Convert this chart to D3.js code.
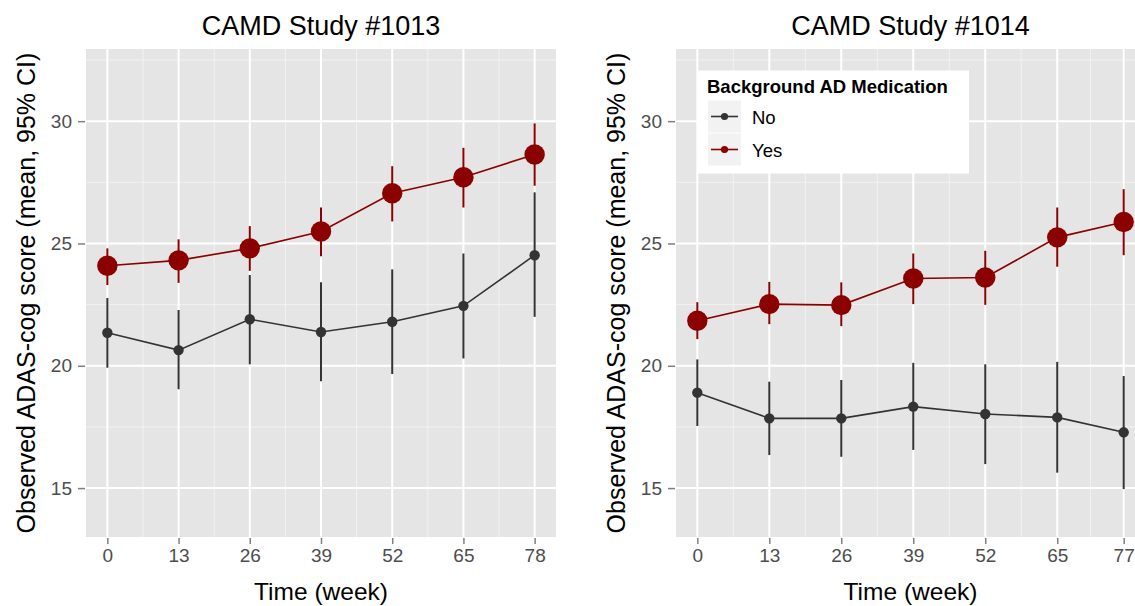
<!DOCTYPE html>
<html>
<head>
<meta charset="utf-8">
<script src="https://cdn.jsdelivr.net/npm/d3@7"></script>
<style>
  body { margin: 0; background: #fff; }
  svg { display: block; font-family: "Liberation Sans", Arial, sans-serif; }
</style>
</head>
<body>
<div id="plot"></div>
<script>
// Data
var groups = ["No", "Yes"];
var yTicks = [15, 20, 25, 30];

var weeks1013 = [0, 13, 26, 39, 52, 65, 78];
var no1013Mean = [21.35, 20.64, 21.90, 21.38, 21.80, 22.45, 24.52];
var no1013Low = [19.92, 19.04, 20.06, 19.37, 19.66, 20.30, 22.00];
var no1013High = [22.77, 22.28, 23.71, 23.41, 23.94, 24.59, 27.09];
var yes1013Mean = [24.09, 24.31, 24.80, 25.49, 27.05, 27.71, 28.64];
var yes1013Low = [23.30, 23.39, 23.88, 24.48, 25.90, 26.47, 27.36];
var yes1013High = [24.80, 25.17, 25.71, 26.47, 28.16, 28.91, 29.91];

var weeks1014 = [0, 13, 26, 39, 52, 65, 77];
var no1014Mean = [18.90, 17.85, 17.85, 18.33, 18.03, 17.89, 17.28];
var no1014Low = [17.54, 16.35, 16.28, 16.56, 15.98, 15.63, 14.96];
var no1014High = [20.26, 19.35, 19.42, 20.12, 20.06, 20.16, 19.58];
var yes1014Mean = [21.84, 22.52, 22.48, 23.57, 23.61, 25.25, 25.88];
var yes1014Low = [21.09, 21.70, 21.62, 22.52, 22.49, 24.05, 24.52];
var yes1014High = [22.60, 23.43, 23.41, 24.59, 24.70, 26.47, 27.22];

// Define SVG area dimensions
var svgWidth = 1135;
var svgHeight = 606;

var colors = { No: "#333333", Yes: "#8B0000" };
var pointRadius = { No: 5.2, Yes: 10.2 };

var svg = d3.select("#plot")
  .append("svg")
  .attr("width", svgWidth)
  .attr("height", svgHeight);

svg.append("rect")
  .attr("width", svgWidth)
  .attr("height", svgHeight)
  .attr("fill", "#ffffff");

function makeSeries(weeks, mean, low, high) {
  return weeks.map(function(w, i) {
    return { week: w, mean: mean[i], low: low[i], high: high[i] };
  });
}

function drawPanel(opts) {
  var left = opts.left, right = opts.right, top = 49, bottom = 537;
  var weeks = opts.weeks;
  var maxWeek = d3.max(weeks);
  var pad = maxWeek * 0.05;

  var x = d3.scaleLinear().domain([-pad, maxWeek + pad]).range([left, right]);
  var y = d3.scaleLinear().domain([13.0, 32.95]).range([bottom, top]);

  var g = svg.append("g");

  // panel background
  g.append("rect")
    .attr("x", left)
    .attr("y", top)
    .attr("width", right - left)
    .attr("height", bottom - top)
    .attr("fill", "#E5E5E5");

  // minor grid lines (midpoints between breaks)
  var minorX = d3.pairs(weeks).map(function(p) { return (p[0] + p[1]) / 2; });
  var minorY = [12.5, 17.5, 22.5, 27.5, 32.5].filter(function(v) { return v > 13 && v < 32.95; });

  g.selectAll(".minor-x")
    .data(minorX)
    .enter()
    .append("line")
    .attr("x1", d => x(d)).attr("x2", d => x(d))
    .attr("y1", top).attr("y2", bottom)
    .attr("stroke", "#F2F2F2")
    .attr("stroke-width", 1);

  g.selectAll(".minor-y")
    .data(minorY)
    .enter()
    .append("line")
    .attr("x1", left).attr("x2", right)
    .attr("y1", d => y(d)).attr("y2", d => y(d))
    .attr("stroke", "#F2F2F2")
    .attr("stroke-width", 1);

  // major grid lines
  g.selectAll(".major-x")
    .data(weeks)
    .enter()
    .append("line")
    .attr("x1", d => x(d)).attr("x2", d => x(d))
    .attr("y1", top).attr("y2", bottom)
    .attr("stroke", "#ffffff")
    .attr("stroke-width", 2);

  g.selectAll(".major-y")
    .data(yTicks)
    .enter()
    .append("line")
    .attr("x1", left).attr("x2", right)
    .attr("y1", d => y(d)).attr("y2", d => y(d))
    .attr("stroke", "#ffffff")
    .attr("stroke-width", 2);

  // axes
  var bottomAxis = d3.axisBottom(x).tickValues(weeks).tickSize(6).tickPadding(5);
  var leftAxis = d3.axisLeft(y).tickValues(yTicks).tickSize(7).tickPadding(6);

  var xAxisG = g.append("g")
    .attr("transform", `translate(0, ${bottom + 1})`)
    .call(bottomAxis);
  var yAxisG = g.append("g")
    .attr("transform", `translate(${left - 1}, 0)`)
    .call(leftAxis);

  [xAxisG, yAxisG].forEach(function(ax) {
    ax.select(".domain").remove();
    ax.selectAll(".tick line").attr("stroke", "#7F7F7F").attr("stroke-width", 1.5);
    ax.selectAll(".tick text")
      .attr("fill", "#4D4D4D")
      .attr("font-size", 19)
      .attr("font-family", "Liberation Sans, Arial, sans-serif");
  });

  // titles
  g.append("text")
    .attr("x", (left + right) / 2)
    .attr("y", 35)
    .attr("text-anchor", "middle")
    .attr("font-size", 27)
    .attr("fill", "#000")
    .text(opts.title);

  g.append("text")
    .attr("x", (left + right) / 2)
    .attr("y", 600)
    .attr("text-anchor", "middle")
    .attr("font-size", 24.5)
    .attr("fill", "#000")
    .text("Time (week)");

  g.append("text")
    .attr("transform", `translate(${left - 51}, ${(top + bottom) / 2}) rotate(-90)`)
    .attr("text-anchor", "middle")
    .attr("font-size", 25)
    .attr("fill", "#000")
    .text("Observed ADAS-cog score (mean, 95% CI)");

  // series
  var line = d3.line().x(d => x(d.week)).y(d => y(d.mean));

  groups.forEach(function(grp) {
    var data = opts.series[grp];
    var sg = g.append("g");

    sg.append("path")
      .datum(data)
      .attr("d", line)
      .attr("fill", "none")
      .attr("stroke", colors[grp])
      .attr("stroke-width", 1.6);

    sg.selectAll(".err")
      .data(data)
      .enter()
      .append("line")
      .attr("x1", d => x(d.week)).attr("x2", d => x(d.week))
      .attr("y1", d => y(d.low)).attr("y2", d => y(d.high))
      .attr("stroke", colors[grp])
      .attr("stroke-width", 2);

    sg.selectAll(".pt")
      .data(data)
      .enter()
      .append("circle")
      .attr("cx", d => x(d.week))
      .attr("cy", d => y(d.mean))
      .attr("r", pointRadius[grp])
      .attr("fill", colors[grp]);
  });

  return g;
}

drawPanel({
  left: 86, right: 556,
  weeks: weeks1013,
  title: "CAMD Study #1013",
  series: {
    No: makeSeries(weeks1013, no1013Mean, no1013Low, no1013High),
    Yes: makeSeries(weeks1013, yes1013Mean, yes1013Low, yes1013High)
  }
});

drawPanel({
  left: 676, right: 1145,
  weeks: weeks1014,
  title: "CAMD Study #1014",
  series: {
    No: makeSeries(weeks1014, no1014Mean, no1014Low, no1014High),
    Yes: makeSeries(weeks1014, yes1014Mean, yes1014Low, yes1014High)
  }
});

// legend inside the right panel
var legend = svg.append("g").attr("transform", "translate(698, 70.5)");

legend.append("rect")
  .attr("width", 271)
  .attr("height", 103)
  .attr("fill", "#ffffff");

legend.append("text")
  .attr("x", 9)
  .attr("y", 22)
  .attr("font-size", 18.5)
  .attr("font-weight", "bold")
  .attr("fill", "#000")
  .text("Background AD Medication");

var keys = legend.selectAll(".key")
  .data(groups)
  .enter()
  .append("g")
  .attr("transform", (d, i) => `translate(10, ${30 + i * 33})`);

keys.append("rect")
  .attr("width", 33)
  .attr("height", 32)
  .attr("fill", "#F2F2F2");

keys.append("line")
  .attr("x1", 3).attr("x2", 30)
  .attr("y1", 16).attr("y2", 16)
  .attr("stroke", d => colors[d])
  .attr("stroke-width", 1.6);

keys.append("circle")
  .attr("cx", 16.5)
  .attr("cy", 16)
  .attr("r", 3.6)
  .attr("fill", d => colors[d]);

keys.append("text")
  .attr("x", 44)
  .attr("y", 23)
  .attr("font-size", 18.5)
  .attr("fill", "#000")
  .text(d => d);
</script>
</body>
</html>
